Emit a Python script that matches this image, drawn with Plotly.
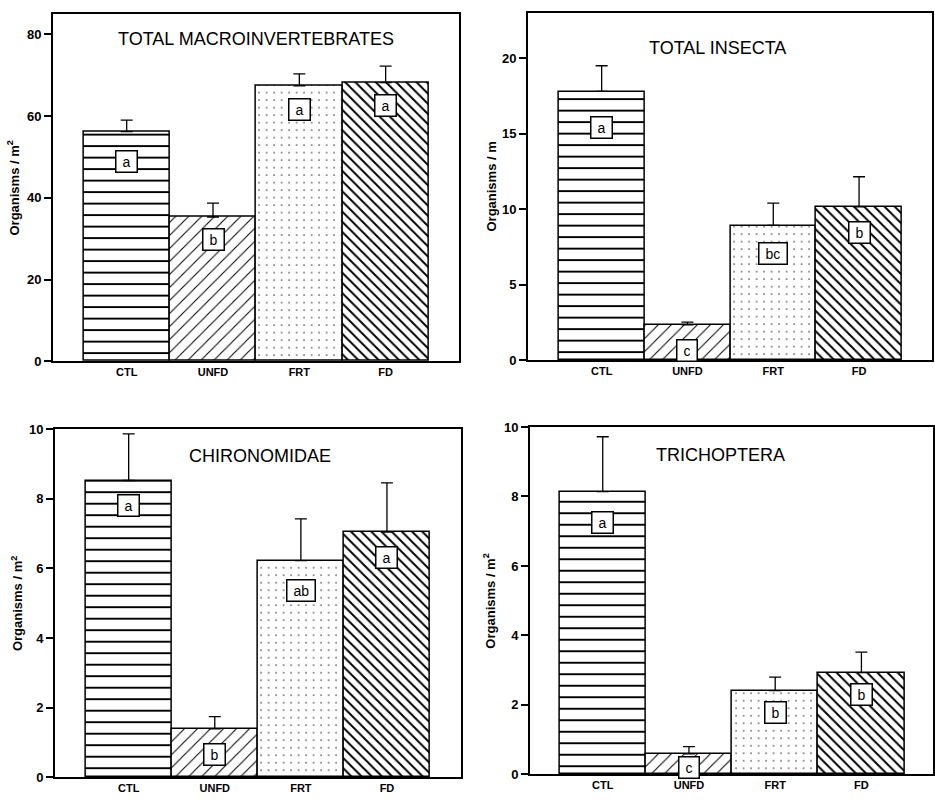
import plotly.graph_objects as go

categories = ["CTL", "UNFD", "FRT", "FD"]

panel_titles = ["TOTAL MACROINVERTEBRATES", "TOTAL INSECTA", "CHIRONOMIDAE", "TRICHOPTERA"]
y_titles = ["Organisms / m<sup>2</sup>", "Organisms / m", "Organisms / m<sup>2</sup>", "Organisms / m<sup>2</sup>"]

macro_mean = [56.2, 35.3, 67.4, 68.2]
macro_se = [2.8, 3.4, 2.9, 4.0]
macro_letters = ["a", "b", "a", "a"]
macro_letter_y = [48.8, 29.8, 61.7, 62.7]

insecta_mean = [17.8, 2.34, 8.93, 10.15]
insecta_se = [1.7, 0.18, 1.47, 2.0]
insecta_letters = ["a", "c", "bc", "b"]
insecta_letter_y = [15.4, 0.65, 7.1, 8.46]

chiro_mean = [8.52, 1.39, 6.22, 7.04]
chiro_se = [1.34, 0.35, 1.2, 1.41]
chiro_letters = ["a", "b", "ab", "a"]
chiro_letter_y = [7.81, 0.66, 5.35, 6.32]

trich_mean = [8.14, 0.59, 2.41, 2.93]
trich_se = [1.58, 0.21, 0.39, 0.59]
trich_letters = ["a", "c", "b", "b"]
trich_letter_y = [7.24, 0.19, 1.77, 2.29]

y_ranges = [[0, 85], [0, 23], [0, 10], [0, 10]]
y_dticks = [20, 5, 2, 2]

means = [macro_mean, insecta_mean, chiro_mean, trich_mean]
ses = [macro_se, insecta_se, chiro_se, trich_se]
letters = [macro_letters, insecta_letters, chiro_letters, trich_letters]
letter_ys = [macro_letter_y, insecta_letter_y, chiro_letter_y, trich_letter_y]

W, H = 935, 802
# panel pixel geometry: (left, right, top, bottom) in px, x range
geo = [
    (53, 460, 7, 361, [-0.855, 3.85]),
    (529, 934, 6, 360, [-0.86, 3.85]),
    (55, 462, 430, 785, [-0.857, 3.86]),
    (531, 935, 428, 782, [-0.845, 3.83]),
]
title_pos = [(0.50, 0.929), (0.47, 0.898), (0.504, 0.921), (0.473, 0.92)]
ytitle_x = [13, 493, 17, 490]

patterns = [
    dict(shape="-", size=11.5, solidity=0.17),
    dict(shape="/", size=9.2, solidity=0.11),
    dict(shape=".", size=7.5, solidity=0.03),
    dict(shape="\\", size=7.2, solidity=0.27),
]

FONT = "Liberation Sans, Arial, Helvetica, sans-serif"
NB = "\u00a0"

fig = go.Figure()
annotations = []
layout = dict(width=W, height=H, margin=dict(l=0, r=0, t=0, b=0),
              paper_bgcolor="white", plot_bgcolor="white", showlegend=False,
              font=dict(family=FONT, color="black"))

for p in range(4):
    ax = "" if p == 0 else str(p + 1)
    xname, yname = "x" + ax, "y" + ax
    left, right, top, bottom, xr = geo[p]
    for i, c in enumerate(categories):
        pat = dict(patterns[i])
        pat.update(fgcolor="black", bgcolor="white", fgopacity=1, fillmode="overlay")
        fig.add_trace(go.Bar(
            x=[c], y=[means[p][i]], xaxis=xname, yaxis=yname, width=1.0,
            marker=dict(color="white", line=dict(color="black", width=1.5), pattern=pat),
            error_y=dict(type="data", symmetric=False, array=[ses[p][i]], arrayminus=[0],
                         color="black", thickness=1.3, width=6),
        ))
        annotations.append(dict(
            x=i, y=letter_ys[p][i], xref=xname, yref=yname,
            text=NB + letters[p][i] + NB,
            showarrow=False, font=dict(size=14, family=FONT, color="black"),
            bgcolor="white", bordercolor="black", borderwidth=1.5, borderpad=2,
            xanchor="center", yanchor="middle"))
    layout["xaxis" + ax] = dict(
        domain=[left / W, right / W], range=xr, anchor=yname, type="category",
        showline=True, linecolor="black", linewidth=1.5, mirror=True,
        ticks="", showgrid=False, zeroline=False,
        tickfont=dict(size=11, family=FONT, color="black", weight="bold"))
    layout["yaxis" + ax] = dict(
        domain=[1 - bottom / H, 1 - top / H], range=y_ranges[p], anchor=xname,
        dtick=y_dticks[p], tick0=0, showline=True, linecolor="black", linewidth=1.5,
        mirror=True, ticks="outside", ticklen=7, tickwidth=1.5, tickcolor="black",
        showgrid=False, zeroline=False,
        tickfont=dict(size=13, family=FONT, color="black", weight="bold"))
    annotations.append(dict(
        x=title_pos[p][0], y=title_pos[p][1], xref=xname + " domain", yref=yname + " domain",
        text=panel_titles[p], showarrow=False, font=dict(size=18, family=FONT, color="black"),
        xanchor="center", yanchor="middle"))
    annotations.append(dict(
        x=ytitle_x[p] / W, y=1 - (top + bottom) / 2 / H, xref="paper", yref="paper",
        text=y_titles[p], textangle=-90, showarrow=False,
        font=dict(size=13, family=FONT, color="black", weight="bold"),
        xanchor="center", yanchor="middle"))

layout["annotations"] = annotations
layout["bargap"] = 0
fig.update_layout(**layout)
fig.write_html("out.html", config={"displayModeBar": False},
               post_script="document.body.style.margin='0';document.body.style.padding='0';document.body.style.overflow='hidden';")
